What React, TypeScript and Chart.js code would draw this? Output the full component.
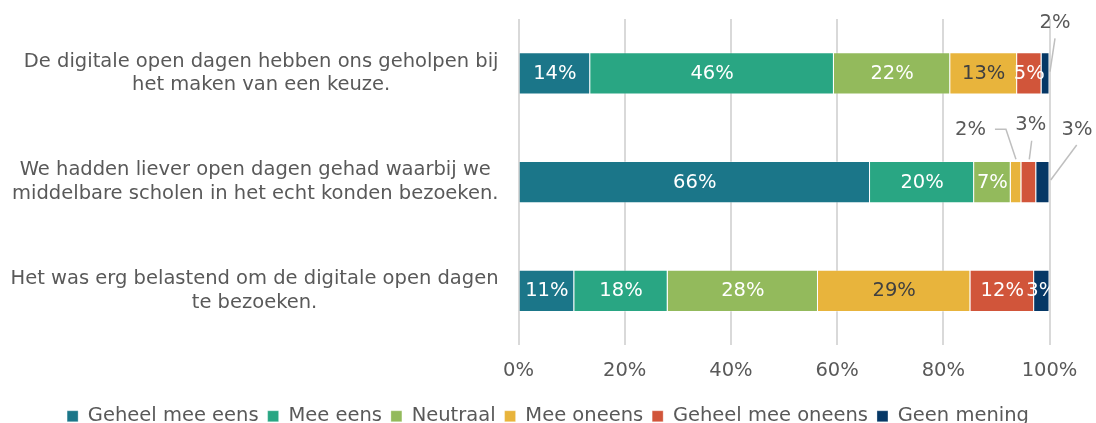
import React, { useEffect, useRef } from 'react';
import { Chart, registerables } from 'chart.js';

Chart.register(...registerables);

// ---------- data ----------
const categories: string[][] = [
  ['De digitale open dagen hebben ons geholpen bij', 'het maken van een keuze.'],
  ['We hadden liever open dagen gehad waarbij we', 'middelbare scholen in het echt konden bezoeken.'],
  ['Het was erg belastend om de digitale open dagen', 'te bezoeken.'],
];

const seriesNames = ['Geheel mee eens', 'Mee eens', 'Neutraal', 'Mee oneens', 'Geheel mee oneens', 'Geen mening'];

const geheelMeeEens = [13.5, 66.2, 10.5];
const meeEens = [45.9, 19.6, 17.6];
const neutraal = [21.9, 6.9, 28.3];
const meeOneens = [12.6, 2.0, 28.7];
const geheelMeeOneens = [4.6, 2.8, 12.0];
const geenMening = [1.5, 2.5, 2.9];

const xTickStep = 20;
const xMax = 100;

// ---------- styles ----------
const seriesValues = [geheelMeeEens, meeEens, neutraal, meeOneens, geheelMeeOneens, geenMening];
const colors = ['#1B7689', '#29A683', '#93BA5C', '#E8B43C', '#D1553A', '#063866'];
const labelColors = ['#ffffff', '#ffffff', '#ffffff', '#404040', '#ffffff', '#ffffff'];
const textGray = '#595959';
const FONT_FAMILY = '"DejaVu Sans", Verdana, sans-serif';
const FONT_SIZE = 19.5;
const LINE_HEIGHT = 23.4;
const Y_LABEL_GAP = 20;

type Callout = { anchor: 'end' | 'center'; tx: number; ty: number; line: [number, number][] };
// offsets (px) relative to the segment anchor point, keyed "datasetIndex-dataIndex"
const CALLOUTS: Record<string, Callout> = {
  '5-0': { anchor: 'end', tx: 5.5, ty: -50.9, line: [[5.5, -35.1], [0.5, -1.7]] },
  '3-1': { anchor: 'center', tx: -45.6, ty: -51.8, line: [[-21.1, -52.8], [-10.1, -52.8], [-0.1, -22.8]] },
  '4-1': { anchor: 'center', tx: 2, ty: -56.8, line: [[2.9, -41.4], [0.5, -22.8]] },
  '5-1': { anchor: 'end', tx: 27.5, ty: -52.6, line: [[27.2, -37.1], [1.2, -2.1]] },
};

// category labels: each block right-aligned to the axis, lines centred within the block
const categoryLabelPlugin = {
  id: 'categoryLabels',
  afterDraw(chart: any) {
    const ctx: CanvasRenderingContext2D = chart.ctx;
    const yScale = chart.scales.y;
    const right = chart.chartArea.left - Y_LABEL_GAP;
    ctx.save();
    ctx.font = `${FONT_SIZE}px ${FONT_FAMILY}`;
    ctx.fillStyle = textGray;
    ctx.textAlign = 'center';
    ctx.textBaseline = 'middle';
    (chart.data.labels as string[][]).forEach((lines, i) => {
      const cy = yScale.getPixelForTick(i);
      const blockW = Math.max(...lines.map((l) => ctx.measureText(l).width));
      const cx = right - blockW / 2;
      const y0 = cy - ((lines.length - 1) * LINE_HEIGHT) / 2;
      lines.forEach((l, k) => ctx.fillText(l, cx, y0 + k * LINE_HEIGHT));
    });
    ctx.restore();
  },
};

const labelPlugin = {
  id: 'segmentLabels',
  afterDatasetsDraw(chart: any) {
    const ctx: CanvasRenderingContext2D = chart.ctx;
    const area = chart.chartArea;
    ctx.save();
    ctx.font = `${FONT_SIZE}px ${FONT_FAMILY}`;
    ctx.textAlign = 'center';
    ctx.textBaseline = 'middle';
    chart.data.datasets.forEach((ds: any, di: number) => {
      const meta = chart.getDatasetMeta(di);
      meta.data.forEach((bar: any, i: number) => {
        const v = ds.data[i] as number;
        const text = Math.round(v) + '%';
        const co = CALLOUTS[`${di}-${i}`];
        if (co) {
          const ax = co.anchor === 'end' ? bar.x : (bar.x + bar.base) / 2;
          const ay = bar.y;
          ctx.strokeStyle = '#bfbfbf';
          ctx.lineWidth = 1.5;
          ctx.beginPath();
          co.line.forEach(([dx, dy], k) => {
            if (k === 0) ctx.moveTo(ax + dx, ay + dy);
            else ctx.lineTo(ax + dx, ay + dy);
          });
          ctx.stroke();
          ctx.fillStyle = textGray;
          ctx.fillText(text, ax + co.tx, ay + co.ty);
        } else {
          ctx.save();
          ctx.beginPath();
          ctx.rect(area.left, area.top, area.right - area.left, area.bottom - area.top);
          ctx.clip();
          ctx.fillStyle = labelColors[di];
          ctx.fillText(text, (bar.x + bar.base) / 2, bar.y + 0.4);
          ctx.restore();
        }
      });
    });
    ctx.restore();
  },
};

export default function App() {
  const ref = useRef<HTMLCanvasElement | null>(null);

  useEffect(() => {
    if (!ref.current) return;
    Chart.defaults.font.family = FONT_FAMILY;
    const chart = new Chart(ref.current, {
      type: 'bar',
      data: {
        labels: categories as any,
        datasets: seriesNames.map((name, k) => ({
          label: name,
          data: seriesValues[k],
          backgroundColor: colors[k],
          borderColor: 'rgba(255,255,255,0.3)',
          borderWidth: 1,
          barPercentage: 0.39,
          categoryPercentage: 1,
        })),
      },
      options: {
        indexAxis: 'y',
        responsive: true,
        maintainAspectRatio: false,
        animation: false,
        layout: { padding: { top: 19, left: 0, right: 0, bottom: 0 } },
        scales: {
          x: {
            stacked: true,
            min: 0,
            max: xMax,
            ticks: {
              stepSize: xTickStep,
              callback: (v: any) => v + '%',
              color: textGray,
              font: { size: FONT_SIZE },
              padding: 14,
            },
            grid: { color: '#d9d9d9', lineWidth: 2, drawTicks: false },
            border: { display: false },
            afterFit: (s: any) => {
              s.height = 52.25;
              s.paddingRight = 46.5;
              s.paddingTop = 0;
              s.paddingBottom = 0;
            },
          },
          y: {
            stacked: true,
            ticks: { display: false },
            grid: { display: false, drawTicks: false },
            border: { display: false },
            afterFit: (s: any) => {
              s.width = 518.5;
              s.paddingTop = 0;
              s.paddingBottom = 0;
            },
          },
        },
        plugins: {
          legend: {
            position: 'bottom',
            labels: {
              color: textGray,
              font: { size: FONT_SIZE },
              boxWidth: 11,
              boxHeight: 11,
              padding: 9,
            },
          },
          tooltip: { enabled: false },
        },
      } as any,
      plugins: [labelPlugin, categoryLabelPlugin],
    });
    return () => chart.destroy();
  }, []);

  return (
    <div style={{ position: 'fixed', left: 0, top: 0, width: 1096, height: 436 }}>
      <canvas ref={ref} />
    </div>
  );
}
